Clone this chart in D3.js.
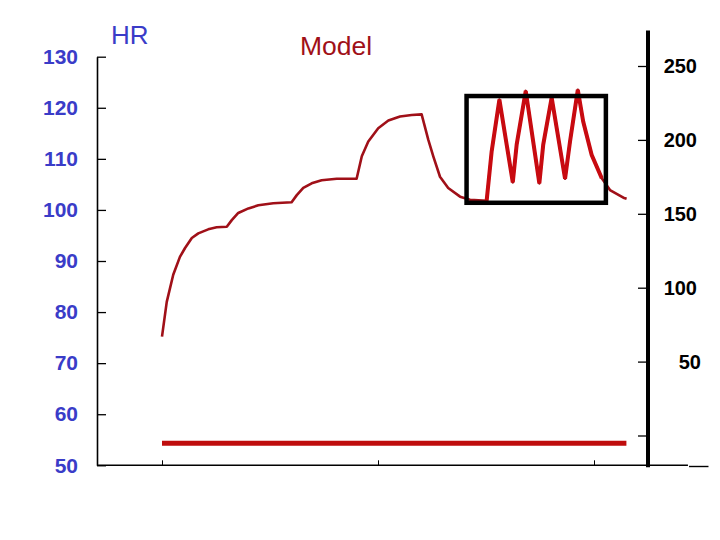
<!DOCTYPE html>
<html>
<head>
<meta charset="utf-8">
<script src="https://cdn.jsdelivr.net/npm/d3@7/dist/d3.min.js"></script>
<style>
  html, body { margin: 0; padding: 0; background: #ffffff; }
  svg { display: block; font-family: "Liberation Sans", Arial, sans-serif; }
</style>
</head>
<body>
<svg id="chart" width="720" height="540"></svg>
<script>
// ---- data ----
const time = [0, 0.22, 0.52, 0.83, 1.06, 1.38, 1.68, 2.14, 2.53, 3.0, 3.23, 3.53, 4.0, 4.46, 5.15, 6.0,
  6.24, 6.54, 6.93, 7.39, 8.09, 9.01, 9.25, 9.55, 10.01, 10.48, 11.02, 11.56, 12.02,
  12.33, 12.56, 12.87, 13.25, 13.8, 14.26, 15.03,
  15.26, 15.62, 16.24, 16.42, 16.84, 17.47, 17.65, 18.04, 18.66, 18.89, 19.25,
  19.5, 19.89, 20.36, 20.74, 21.36, 21.51];
const hrModel = [75.2, 82.0, 87.3, 90.8, 92.5, 94.5, 95.4, 96.2, 96.6, 96.7, 98.0, 99.4, 100.3, 100.9, 101.3, 101.5,
  102.9, 104.3, 105.2, 105.8, 106.1, 106.1, 110.5, 113.4, 116.0, 117.5, 118.3, 118.6, 118.7,
  113.7, 110.5, 106.5, 104.3, 102.6, 102.0, 101.8,
  111.4, 121.6, 105.4, 112.8, 123.3, 105.2, 112.8, 122.0, 106.1, 113.4, 123.5,
  117.3, 110.8, 106.2, 103.9, 102.4, 102.2];
// highlighted (thick) stretch of the model line: indices into the arrays above
const spikeRange = [35, 49];
// flat baseline series
const baseTime = [0, 21.5];
const baseHR = [54.3, 54.3];
// highlight box (data units)
const boxTime = [14.1, 20.55];
const boxHR = [101.4, 122.3];

const leftTicks = [50, 60, 70, 80, 90, 100, 110, 120, 130];
const rightTicks = [0, 50, 100, 150, 200, 250];
const xTicks = [0, 10, 20];

const labelHR = "HR";
const labelModel = "Model";

// ---- scales ----
const svg = d3.select("#chart");
const x = d3.scaleLinear().domain([0, 10]).range([162, 378]);
const yL = d3.scaleLinear().domain([50, 130]).range([465.3, 56.7]);
const yR = d3.scaleLinear().domain([0, 250]).range([435.5, 66]);
const leftAxisX = 97;
const rightAxisX = 648;

const blue = "#3a3cc8";
const darkRed = "#a01018";

// ---- left axis ----
const gL = svg.append("g").attr("transform", `translate(${leftAxisX},0)`)
  .call(d3.axisLeft(yL).tickValues(leftTicks).tickSizeInner(-9).tickSizeOuter(0).tickPadding(19));
gL.select(".domain").attr("stroke", "#000").attr("stroke-width", 1.6);
gL.selectAll(".tick line").attr("stroke", "#000").attr("stroke-width", 1.3);
gL.selectAll(".tick text").attr("fill", blue).attr("font-size", 21).attr("font-weight", "bold")
  .attr("font-family", "Liberation Sans, Arial, sans-serif");

// ---- bottom axis ----
const gB = svg.append("g").attr("transform", `translate(0,${yL(50)})`)
  .call(d3.axisBottom(x).tickValues(xTicks).tickSizeInner(-5).tickSizeOuter(0).tickFormat(""));
gB.select(".domain").remove();
gB.selectAll(".tick line").attr("stroke", "#000").attr("stroke-width", 1);
gB.append("line").attr("x1", leftAxisX).attr("x2", x(24.35)).attr("y1", 0).attr("y2", 0)
  .attr("stroke", "#000").attr("stroke-width", 1.6);
gB.append("line").attr("x1", x(24.4)).attr("x2", x(25.3)).attr("y1", 1.2).attr("y2", 1.2)
  .attr("stroke", "#000").attr("stroke-width", 1.4);

// ---- right axis ----
const gR = svg.append("g").attr("transform", `translate(${rightAxisX},0)`)
  .call(d3.axisRight(yR).tickValues(rightTicks).tickSizeInner(-10).tickSizeOuter(0).tickPadding(49)
    .tickFormat(d => d === 0 ? "" : d));
gR.select(".domain").remove();
gR.append("line").attr("x1", 0).attr("x2", 0).attr("y1", yR(274)).attr("y2", yR(-21.5))
  .attr("stroke", "#000").attr("stroke-width", 4);
gR.selectAll(".tick line").attr("stroke", "#000").attr("stroke-width", 1.3);
gR.selectAll(".tick text").attr("fill", "#000").attr("font-size", 20).attr("font-weight", "bold")
  .attr("text-anchor", "end").attr("dx", d => d === 50 ? 4 : 0)
  .attr("font-family", "Liberation Sans, Arial, sans-serif");

// ---- series ----
const pts = time.map((t, i) => [t, hrModel[i]]);
const line = d3.line().x(d => x(d[0])).y(d => yL(d[1]));

svg.append("path").datum(pts).attr("d", line)
  .attr("fill", "none").attr("stroke", darkRed).attr("stroke-width", 2.6)
  .attr("stroke-linejoin", "round");
svg.append("path").datum(pts.slice(spikeRange[0], spikeRange[1] + 1)).attr("d", line)
  .attr("fill", "none").attr("stroke", "#c80a10").attr("stroke-width", 4)
  .attr("stroke-linejoin", "miter");

svg.append("path").datum(baseTime.map((t, i) => [t, baseHR[i]])).attr("d", line)
  .attr("fill", "none").attr("stroke", "#bf0d0d").attr("stroke-width", 5);

// ---- highlight box ----
svg.append("rect")
  .attr("x", x(boxTime[0])).attr("y", yL(boxHR[1]))
  .attr("width", x(boxTime[1]) - x(boxTime[0])).attr("height", yL(boxHR[0]) - yL(boxHR[1]))
  .attr("fill", "none").attr("stroke", "#000").attr("stroke-width", 4.5);

// ---- titles ----
svg.append("text").attr("x", 111).attr("y", 43.5).text(labelHR)
  .attr("fill", blue).attr("font-size", 26);
svg.append("text").attr("x", 300).attr("y", 55).text(labelModel)
  .attr("fill", darkRed).attr("font-size", 26.5);
</script>
</body>
</html>
